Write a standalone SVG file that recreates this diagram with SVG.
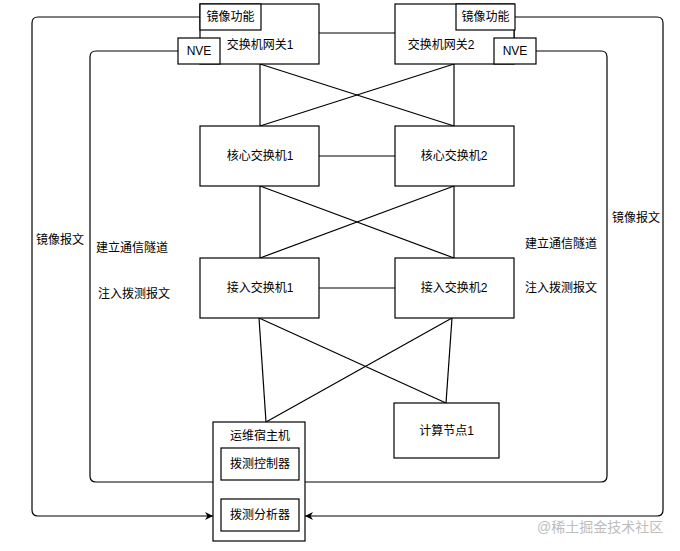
<svg xmlns="http://www.w3.org/2000/svg" width="680" height="551" viewBox="0 0 680 551">
<style>
.b{fill:#fff;stroke:#000;stroke-width:1.2}
.l{fill:none;stroke:#000;stroke-width:1.2}
.t{font-family:"Liberation Sans","Noto Sans CJK SC",sans-serif;font-size:12px;fill:#000;text-anchor:middle;dominant-baseline:central}
.s{font-family:"Liberation Sans","Noto Sans CJK SC",sans-serif;font-size:12px;fill:#000;text-anchor:start;dominant-baseline:central}
.w{font-family:"Liberation Sans","Noto Sans CJK SC",sans-serif;font-size:14px;fill:#bdbdbd;text-anchor:start}
</style>
<defs>
<marker id="arr" viewBox="0 0 10 10" refX="10" refY="5" markerWidth="8" markerHeight="8" markerUnits="userSpaceOnUse" orient="auto">
<path d="M0,0 L10,5 L0,10 L3,5 Z" fill="#000"/>
</marker>
</defs>
<rect width="680" height="551" fill="#fff"/>
<g id="connectors">
<line class="l" x1="319" y1="33" x2="395" y2="33"/>
<line class="l" x1="260" y1="64" x2="260" y2="126"/>
<line class="l" x1="454" y1="64" x2="454" y2="126"/>
<line class="l" x1="260" y1="64" x2="454" y2="126"/>
<line class="l" x1="454" y1="64" x2="260" y2="126"/>
<line class="l" x1="319" y1="156" x2="395" y2="156"/>
<line class="l" x1="260" y1="186" x2="260" y2="258"/>
<line class="l" x1="454" y1="186" x2="454" y2="258"/>
<line class="l" x1="260" y1="186" x2="454" y2="258"/>
<line class="l" x1="454" y1="186" x2="260" y2="258"/>
<line class="l" x1="319" y1="288" x2="395" y2="288"/>
<line class="l" x1="259" y1="318" x2="266" y2="422"/>
<line class="l" x1="259" y1="318" x2="446" y2="403"/>
<line class="l" x1="452" y1="318" x2="266" y2="422"/>
<line class="l" x1="452" y1="318" x2="446" y2="403"/>
<path class="l" d="M178,51 H96 Q90,51 90,57 V476 Q90,482 96,482 H213"/>
<path class="l" d="M536,51 H601 Q607,51 607,57 V476 Q607,482 601,482 H305"/>
<path class="l" d="M200,17 H38 Q32,17 32,23 V510 Q32,516 38,516 H213" marker-end="url(#arr)"/>
<path class="l" d="M515,17 H657 Q663,17 663,23 V510 Q663,516 657,516 H305" marker-end="url(#arr)"/>
<line class="l" x1="514" y1="30" x2="514" y2="38"/>
</g>
<g id="labels">
<text class="s" x="36" y="240">镜像报文</text>
<text class="s" x="96" y="248">建立通信隧道</text>
<text class="s" x="98" y="294">注入拨测报文</text>
<text class="s" x="612" y="218">镜像报文</text>
<text class="s" x="525" y="244">建立通信隧道</text>
<text class="s" x="525" y="288">注入拨测报文</text>
</g>
<g id="gw1">
<rect class="b" x="200" y="4" width="119" height="60"/>
<text class="t" x="260" y="45">交换机网关1</text>
<rect class="b" x="200" y="4" width="61" height="26"/>
<text class="t" x="230.5" y="17">镜像功能</text>
<rect class="b" x="178" y="38" width="42" height="26"/>
<text class="t" x="199" y="51">NVE</text>
</g>
<g id="gw2">
<rect class="b" x="395" y="4" width="119" height="60"/>
<text class="t" x="441" y="45">交换机网关2</text>
<rect class="b" x="456" y="4" width="59" height="26"/>
<text class="t" x="485.5" y="17">镜像功能</text>
<rect class="b" x="494" y="38" width="42" height="26"/>
<text class="t" x="515" y="51">NVE</text>
</g>
<g id="core1">
<rect class="b" x="200" y="126" width="119" height="60"/>
<text class="t" x="260" y="156">核心交换机1</text>
</g>
<g id="core2">
<rect class="b" x="395" y="126" width="119" height="60"/>
<text class="t" x="454" y="156">核心交换机2</text>
</g>
<g id="acc1">
<rect class="b" x="200" y="258" width="119" height="60"/>
<text class="t" x="260" y="288">接入交换机1</text>
</g>
<g id="acc2">
<rect class="b" x="395" y="258" width="119" height="60"/>
<text class="t" x="454" y="288">接入交换机2</text>
</g>
<g id="compute">
<rect class="b" x="394" y="403" width="105" height="55"/>
<text class="t" x="446.5" y="431">计算节点1</text>
</g>
<g id="ops">
<rect class="b" x="213" y="422" width="92" height="119"/>
<text class="t" x="260" y="436">运维宿主机</text>
<rect class="b" x="221" y="448" width="78" height="32"/>
<text class="t" x="260" y="464">拨测控制器</text>
<rect class="b" x="221" y="499" width="78" height="32"/>
<text class="t" x="260" y="515">拨测分析器</text>
</g>
<text class="w" x="537" y="532">@稀土掘金技术社区</text>
</svg>
